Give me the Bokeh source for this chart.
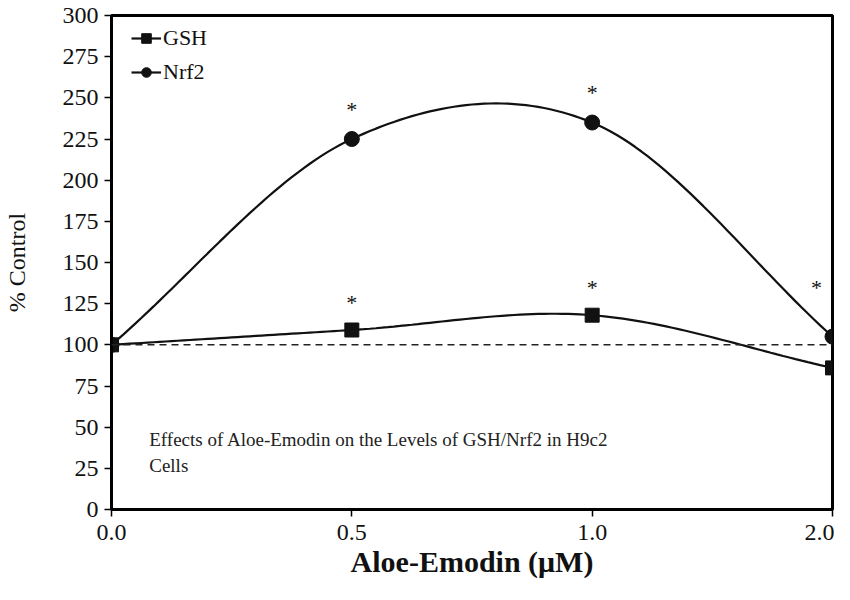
import numpy as np
from bokeh.plotting import figure
from bokeh.models import Range1d, FixedTicker, Label, Span, Legend, LegendItem
from bokeh.embed import file_html
from bokeh.resources import INLINE

categories = ["0.0", "0.5", "1.0", "2.0"]
gsh = [100, 109, 118, 86]
nrf2 = [100, 225, 235, 105]
y_ticks = list(range(0, 301, 25))
gsh_sig = [False, True, True, False]
nrf2_sig = [False, True, True, True]

FONT = "Liberation Serif"

def smooth(xs, ys, n=40):
    xs = np.asarray(xs, float); ys = np.asarray(ys, float)
    m = len(xs)
    tx = np.zeros(m); ty = np.zeros(m)
    for i in range(m):
        a = max(i - 1, 0); b = min(i + 1, m - 1)
        tx[i] = (xs[b] - xs[a]) / (b - a) if b != a else 0
        ty[i] = (ys[b] - ys[a]) / (b - a) if b != a else 0
    outx, outy = [], []
    for i in range(m - 1):
        t = np.linspace(0, 1, n, endpoint=(i == m - 2))
        h00 = 2*t**3 - 3*t**2 + 1; h10 = t**3 - 2*t**2 + t
        h01 = -2*t**3 + 3*t**2; h11 = t**3 - t**2
        outx.extend(h00*xs[i] + h10*tx[i] + h01*xs[i+1] + h11*tx[i+1])
        outy.extend(h00*ys[i] + h10*ty[i] + h01*ys[i+1] + h11*ty[i+1])
    return outx, outy

xpos = list(range(len(categories)))

W, H = 834, 584
BL, BR, BT, BB = 107, 2, 15, 75

p = figure(width=W, height=H, output_backend="svg", toolbar_location=None,
           x_range=Range1d(0, 3), y_range=Range1d(0, 300),
           min_border_left=BL, min_border_right=BR, min_border_top=BT, min_border_bottom=BB)
p.background_fill_color = "white"
p.border_fill_color = "white"
p.outline_line_color = "black"
p.outline_line_width = 3
p.grid.visible = False

p.xaxis.ticker = FixedTicker(ticks=xpos)
p.xaxis.major_label_overrides = {i: c for i, c in enumerate(categories)}
p.yaxis.ticker = FixedTicker(ticks=y_ticks)
for ax in (p.xaxis, p.yaxis):
    ax.axis_line_width = 3
    ax.axis_line_color = "black"
    ax.major_tick_in = 0
    ax.major_tick_out = 7
    ax.major_tick_line_width = 1.5
    ax.minor_tick_line_color = None
    ax.major_label_text_font = FONT
    ax.major_label_text_font_size = "24px"
    ax.major_label_text_color = "#111111"
    ax.axis_label_text_color = "#111111"
    ax.axis_label_text_font = FONT
p.xaxis.major_label_standoff = 8
p.yaxis.major_label_standoff = 6
p.xaxis.axis_label = "Aloe-Emodin (\u03bcM)"
p.xaxis.axis_label_text_font_size = "30px"
p.xaxis.axis_label_text_font_style = "bold"
p.xaxis.axis_label_standoff = 2
p.yaxis.axis_label = "% Control"
p.yaxis.axis_label_text_font_size = "24px"
p.yaxis.axis_label_text_font_style = "normal"
p.yaxis.axis_label_standoff = 30

p.add_layout(Span(location=100, dimension="width", line_color="#222222",
                  line_dash="7 5", line_width=1.5))

gx, gy = smooth(xpos, gsh)
nx, ny = smooth(xpos, nrf2)
l1 = p.line(gx, gy, line_color="#111111", line_width=2.2)
l2 = p.line(nx, ny, line_color="#111111", line_width=2.2)
m1 = p.scatter(xpos, gsh, marker="square", size=14, color="#111111")
m2 = p.scatter(xpos, nrf2, marker="circle", size=15, color="#111111")

for i, s in enumerate(gsh_sig):
    if s:
        p.add_layout(Label(x=xpos[i], y=gsh[i] + 17, text="*", text_font=FONT,
                           text_font_size="22px", text_align="center",
                           text_baseline="middle", text_color="#111111"))
for i, s in enumerate(nrf2_sig):
    if s:
        xo = -16 if i == len(xpos) - 1 else 0
        yo = 30 if i == len(xpos) - 1 else 18
        p.add_layout(Label(x=xpos[i], y=nrf2[i] + yo, x_offset=xo, text="*", text_font=FONT,
                           text_font_size="22px", text_align="center",
                           text_baseline="middle", text_color="#111111"))

p.add_layout(Label(x=0.157, y=42.5, text="Effects of Aloe-Emodin on the Levels of GSH/Nrf2 in H9c2",
                   text_font=FONT, text_font_size="19px", text_baseline="middle",
                   text_color="#222222"))
p.add_layout(Label(x=0.157, y=27, text="Cells",
                   text_font=FONT, text_font_size="19px", text_baseline="middle",
                   text_color="#222222"))

frame_h = H - BT - BB
leg_h = 2 * 5 + 2 * 24 + 8
legend = Legend(items=[LegendItem(label="GSH", renderers=[l1, m1]),
                       LegendItem(label="Nrf2", renderers=[l2, m2])],
                location=(20, frame_h - 4 - leg_h))
legend.border_line_color = None
legend.background_fill_alpha = 0
legend.label_text_font = FONT
legend.label_text_font_size = "22px"
legend.label_text_color = "#111111"
legend.glyph_width = 30
legend.glyph_height = 24
legend.label_standoff = 2
legend.spacing = 8
legend.margin = 0
legend.padding = 5
legend.label_height = 24
p.add_layout(legend)

open("out.html", "w").write(file_html(p, INLINE))
